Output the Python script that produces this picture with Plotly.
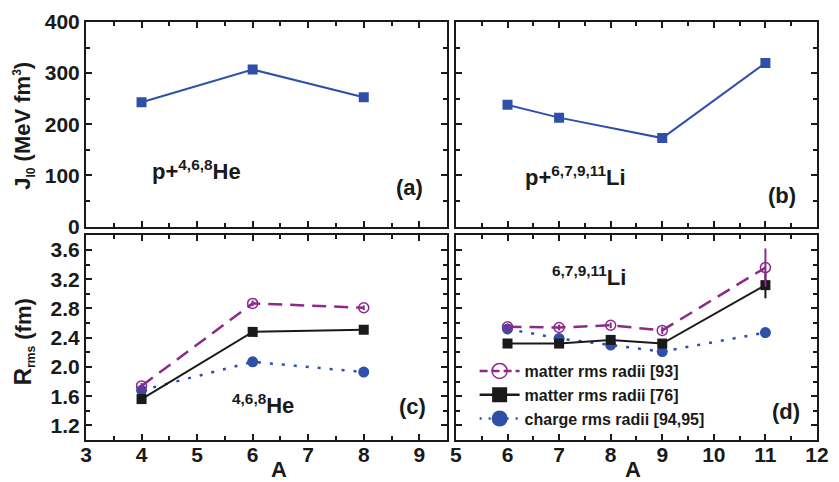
import plotly.graph_objects as go

# ---------------- data ----------------
A_he = [4, 6, 8]
A_li = [6, 7, 9, 11]
A_li_r = [6, 7, 8, 9, 11]

J_he = [243, 307, 253]
J_li = [238, 213, 173, 320]

R93_he = [1.74, 2.87, 2.81]
R93_he_err = [0.04, 0.04, 0.03]
R76_he = [1.56, 2.48, 2.51]
Rch_he = [1.68, 2.07, 1.93]

R93_li = [2.55, 2.54, 2.57, 2.50, 3.36]
R93_li_err = [0.04, 0.04, 0.04, 0.05, 0.26]
R76_li = [2.32, 2.32, 2.37, 2.32, 3.12]
R76_li_err = [0, 0, 0, 0, 0.18]
Rch_li = [2.52, 2.39, 2.30, 2.21, 2.47]

legend_names = ["matter rms radii [93]", "matter rms radii [76]", "charge rms radii [94,95]"]

# ---------------- styles ----------------
BLUE = "#2F4FA8"
PURPLE = "#8B2A8B"
BLACK = "#1a1a1a"
FONT = "Liberation Sans, Arial, sans-serif"
DOT = "3px,9px"
DASH = "14px,8px"

fig = go.Figure()

# Top panels
fig.add_trace(go.Scatter(x=A_he, y=J_he, mode="lines+markers", xaxis="x", yaxis="y",
                         line=dict(color=BLUE, width=2),
                         marker=dict(symbol="square", size=10, color=BLUE), showlegend=False))
fig.add_trace(go.Scatter(x=A_li, y=J_li, mode="lines+markers", xaxis="x2", yaxis="y2",
                         line=dict(color=BLUE, width=2),
                         marker=dict(symbol="square", size=10, color=BLUE), showlegend=False))

def radii(xs, r93, r93e, r76, r76e, rch, xa, ya):
    fig.add_trace(go.Scatter(x=xs, y=rch, mode="lines+markers", xaxis=xa, yaxis=ya,
                             line=dict(color=BLUE, width=2.5, dash=DOT),
                             marker=dict(symbol="circle", size=11, color=BLUE), showlegend=False))
    fig.add_trace(go.Scatter(x=xs, y=r76, mode="lines+markers", xaxis=xa, yaxis=ya,
                             line=dict(color=BLACK, width=2),
                             error_y=dict(type="data", array=r76e, color=BLACK, thickness=2, width=0,
                                          visible=r76e is not None),
                             marker=dict(symbol="square", size=10, color=BLACK), showlegend=False))
    fig.add_trace(go.Scatter(x=xs, y=r93, mode="lines+markers", xaxis=xa, yaxis=ya,
                             line=dict(color=PURPLE, width=2.5, dash=DASH),
                             error_y=dict(type="data", array=r93e, color=PURPLE, thickness=2, width=0),
                             marker=dict(symbol="circle-open", size=10, color=PURPLE, line=dict(width=1.5)),
                             showlegend=False))

radii(A_he, R93_he, R93_he_err, R76_he, None, Rch_he, "x3", "y3")
radii(A_li_r, R93_li, R93_li_err, R76_li, R76_li_err, Rch_li, "x4", "y4")

# legend entries
fig.add_trace(go.Scatter(x=[None], y=[None], mode="lines+markers", xaxis="x4", yaxis="y4",
                         name=legend_names[0], line=dict(color=PURPLE, width=2.5, dash="8px,4px"),
                         marker=dict(symbol="circle-open", size=15, color=PURPLE, line=dict(width=1.5))))
fig.add_trace(go.Scatter(x=[None], y=[None], mode="lines+markers", xaxis="x4", yaxis="y4",
                         name=legend_names[1], line=dict(color=BLACK, width=2.5),
                         marker=dict(symbol="square", size=15, color=BLACK)))
fig.add_trace(go.Scatter(x=[None], y=[None], mode="lines+markers", xaxis="x4", yaxis="y4",
                         name=legend_names[2], line=dict(color=BLUE, width=2.5, dash="2px,7px"),
                         marker=dict(symbol="circle", size=16, color=BLUE)))

W, H = 839, 482
ML, MR, MT, MB = 86, 10, 17, 42
PW, PH = W - ML - MR, H - MT - MB

def px_x(p):
    return (p - ML) / PW

def px_y(p):
    return (H - MB - p) / PH

tickfont = dict(family=FONT, size=21, color="#1a1a1a", weight="bold")

def xax(rng, dom, anchor, labels):
    return dict(range=rng, domain=dom, anchor=anchor, dtick=1, tick0=0, showgrid=False, zeroline=False,
                showline=True, linecolor="#1a1a1a", linewidth=2, mirror="allticks",
                ticks="inside", ticklen=6, tickwidth=1.5, tickcolor="#1a1a1a",
                minor=dict(ticks="inside", ticklen=4, dtick=0.5, tickwidth=1.5, tickcolor="#1a1a1a"),
                showticklabels=labels, tickfont=tickfont, ticklabelstandoff=-5)

def yax(rng, dom, anchor, labels, dt, mdt, fmt):
    return dict(range=rng, domain=dom, anchor=anchor, dtick=dt, tick0=0, showgrid=False, zeroline=False,
                showline=True, linecolor="#1a1a1a", linewidth=2, mirror="allticks",
                ticks="inside", ticklen=6, tickwidth=1.5, tickcolor="#1a1a1a",
                minor=dict(ticks="inside", ticklen=4, dtick=mdt, tickwidth=1.5, tickcolor="#1a1a1a"),
                showticklabels=labels, tickfont=tickfont, tickformat=fmt)

xl = [0, px_x(453)]
xr = [px_x(462), 1]
yt = [px_y(224), 1]
yb = [0, px_y(233)]

fig.update_layout(
    width=W, height=H, margin=dict(l=ML, r=MR, t=MT, b=MB),
    paper_bgcolor="white", plot_bgcolor="white",
    font=dict(family=FONT, color="#1a1a1a"),
    xaxis=xax([3, 9.5], xl, "y", False),
    yaxis=yax([0, 400], yt, "x", True, 100, 50, "d"),
    xaxis2=xax([5, 12], xr, "y2", False),
    yaxis2=yax([0, 400], yt, "x2", False, 100, 50, "d"),
    xaxis3=xax([3, 9.5], xl, "y3", True),
    yaxis3=yax([1.0, 3.8], yb, "x3", True, 0.4, 0.2, ".1f"),
    xaxis4=xax([5, 12], xr, "y4", True),
    yaxis4=yax([1.0, 3.8], yb, "x4", False, 0.4, 0.2, ".1f"),
    showlegend=True,
    legend=dict(x=px_x(481), y=px_y(353), xanchor="left", yanchor="top",
                bgcolor="rgba(0,0,0,0)", font=dict(family=FONT, size=16, weight="bold"),
                tracegroupgap=0, itemwidth=40),
)

ann_font = dict(family=FONT, size=22, color="#1a1a1a", weight="bold")
anns = [
    dict(text="p+<sup>4,6,8</sup>He", x=4.15, y=110, xref="x", yref="y", xanchor="left", yanchor="middle"),
    dict(text="(a)", x=9.1, y=77, xref="x", yref="y", xanchor="right", yanchor="middle"),
    dict(text="p+<sup>6,7,9,11</sup>Li", x=6.3, y=99, xref="x2", yref="y2", xanchor="left", yanchor="middle"),
    dict(text="(b)", x=11.63, y=60, xref="x2", yref="y2", xanchor="right", yanchor="middle"),
    dict(text="<sup>4,6,8</sup>He", x=5.6, y=1.49, xref="x3", yref="y3", xanchor="left", yanchor="middle"),
    dict(text="(c)", x=9.15, y=1.46, xref="x3", yref="y3", xanchor="right", yanchor="middle"),
    dict(text="<sup>6,7,9,11</sup>Li", x=6.82, y=3.24, xref="x4", yref="y4", xanchor="left", yanchor="middle"),
    dict(text="(d)", x=11.7, y=1.39, xref="x4", yref="y4", xanchor="right", yanchor="middle"),
    dict(text="J<sub><span style='font-size:12px'>l0</span></sub> (MeV fm<sup><span style='font-size:12px'>3</span></sup>)",
         x=px_x(23), y=px_y(122), xref="paper", yref="paper",
         xanchor="center", yanchor="middle", textangle=-90),
    dict(text="<span style='font-size:24px'>R</span><sub><span style='font-size:12px'>rms</span></sub> (fm)",
         x=px_x(23), y=px_y(341), xref="paper", yref="paper",
         xanchor="center", yanchor="middle", textangle=-90),
    dict(text="A", x=px_x(282), y=px_y(455), xref="paper", yref="paper", xanchor="center", yanchor="top"),
    dict(text="A", x=px_x(642), y=px_y(455), xref="paper", yref="paper", xanchor="center", yanchor="top"),
]
for a in anns:
    a["showarrow"] = False
    a["font"] = ann_font
fig.update_layout(annotations=anns)

fig.write_html("out.html")
